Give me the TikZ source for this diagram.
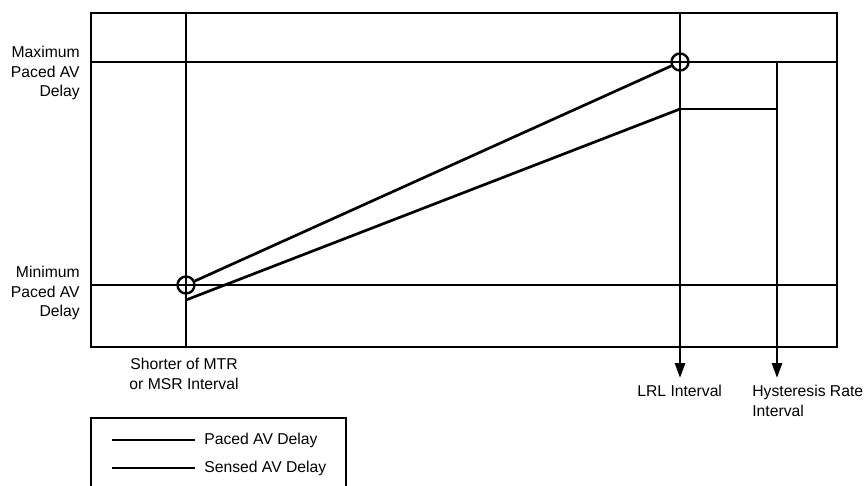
\documentclass[tikz,border=0pt]{standalone}
\usepackage{fontspec}
\setmainfont{Liberation Sans}
\usetikzlibrary{arrows.meta}
\begin{document}
\begin{tikzpicture}[x=1pt,y=-1pt,line width=2.7pt,
  lbl/.style={font=\fontsize{15.7}{19.5}\selectfont,inner sep=0pt},
  arr/.style={-{Triangle[length=15pt,width=10pt]}},
  mark circle/.style={circle,draw,minimum size=17pt,inner sep=0pt,line width=2.4pt}]
\useasboundingbox (0,0) rectangle (864,485);
% plot frame
\coordinate (tl) at (91,13);
\coordinate (br) at (837,347);
\draw (tl) rectangle (br);
% horizontal levels
\coordinate (maxL) at (91,62);
\coordinate (maxR) at (837,62);
\coordinate (minL) at (91,285);
\coordinate (minR) at (837,285);
\draw (maxL) -- (maxR);
\draw (minL) -- (minR);
% vertical at MTR/MSR
\coordinate (mtrT) at (186,13);
\coordinate (mtrB) at (186,347);
\draw (mtrT) -- (mtrB);
% LRL vertical with arrow
\coordinate (lrlT) at (680,13);
\coordinate (lrlTip) at (680,378);
\draw[arr] (lrlT) -- (lrlTip);
% hysteresis vertical with arrow
\coordinate (hyT) at (777,62);
\coordinate (hyTip) at (777,378);
\draw[arr] (hyT) -- (hyTip);
% sensed top horizontal
\coordinate (sTopL) at (680,109);
\coordinate (sTopR) at (777,109);
\draw (sTopL) -- (sTopR);
% circles
\node[mark circle] (cmin) at (186,285) {};
\node[mark circle] (cmax) at (680,62) {};
% paced AV delay
\draw (cmin) -- (cmax);
% sensed AV delay
\coordinate (sStart) at (186,300);
\draw (sStart) -- (sTopL);
% labels
\node[lbl,align=right,anchor=east] (maxlbl) at (81,73) {Maximum\\Paced AV\\Delay};
\node[lbl,align=right,anchor=east] (minlbl) at (81,293) {Minimum\\Paced AV\\Delay};
\node[lbl,align=center] (mtrlbl) at (184,374) {Shorter of MTR\\or MSR Interval};
\node[lbl,anchor=west] (lrllbl) at (636,391) {LRL Interval};
\node[lbl,align=left,anchor=west] (hylbl) at (751,401) {Hysteresis Rate\\Interval};
% legend
\coordinate (lgBL) at (91,495);
\coordinate (lgTL) at (91,418);
\coordinate (lgTR) at (346,418);
\coordinate (lgBR) at (346,495);
\draw (lgBL) -- (lgTL) -- (lgTR) -- (lgBR);
\coordinate (l1a) at (112,440);
\coordinate (l1b) at (195,440);
\coordinate (l2a) at (112,468);
\coordinate (l2b) at (195,468);
\draw (l1a) -- (l1b);
\draw (l2a) -- (l2b);
\node[lbl,anchor=west] (lg1) at (203,440) {Paced AV Delay};
\node[lbl,anchor=west] (lg2) at (203,468) {Sensed AV Delay};
\end{tikzpicture}
\end{document}
